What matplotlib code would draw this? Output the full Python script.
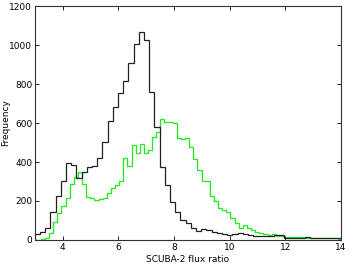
import numpy as np
import matplotlib
matplotlib.use("Agg")
import matplotlib.pyplot as plt

# Black histogram: bin start, width, counts
black_start = 2.993
black_width = 0.187
black_counts = [31, 43, 63, 145, 226, 304, 393, 385, 316, 347,
                373, 380, 422, 504, 612, 684, 752, 815, 909, 1005,
                1065, 1026, 757, 581, 376, 282, 197, 145, 100, 88,
                62, 48, 55, 50, 43, 38, 33, 28, 30, 34,
                30, 26, 22, 20, 18, 22, 25, 28, 10, 10,
                8, 12, 14, 10, 12, 8, 10, 9, 8, 6]

# Green histogram
green_start = 2.914
green_width = 0.1482
green_counts = [2, 2, 3,
                8, 35, 90, 137, 174, 214, 285, 325, 350, 285,
                222, 214, 205, 208, 214, 243, 265, 282, 304, 419,
                381, 487, 448, 492, 448, 462, 526, 555, 619, 607,
                603, 600, 525, 516, 525, 479, 415, 359, 304, 302,
                224, 200, 162, 154, 145, 111, 85, 60, 77, 60,
                51, 43, 34, 31, 26, 29, 20, 20, 17, 14,
                17, 17, 14, 12, 9, 9, 9, 9, 8, 8, 8, 7]

xticks = [4, 6, 8, 10, 12, 14]
yticks = [0, 200, 400, 600, 800, 1000, 1200]

black_edges = black_start + black_width * np.arange(len(black_counts) + 1)
green_edges = green_start + green_width * np.arange(len(green_counts) + 1)

fig = plt.figure(figsize=(3.5, 2.63), dpi=100)
ax = fig.add_axes([0.1, 0.0875, 0.874, 0.8895])

ax.stairs(green_counts, green_edges, color="#1aee1a", linewidth=0.9)
ax.stairs(black_counts, black_edges, color="#222222", linewidth=0.9)

ax.set_xlim(3, 14)
ax.set_ylim(0, 1200)
ax.set_xticks(xticks)
ax.set_yticks(yticks)
ax.tick_params(direction="in", top=True, right=True, labelsize=6.5,
               length=3, width=0.6, pad=2)
for s in ax.spines.values():
    s.set_linewidth(0.8)
    s.set_color("#333333")
ax.set_xlabel("SCUBA-2 flux ratio", fontsize=6.5, labelpad=2)
ax.set_ylabel("Frequency", fontsize=6.5)
ax.yaxis.set_label_coords(-0.082, 0.5)

fig.savefig("out.png", dpi=100)
